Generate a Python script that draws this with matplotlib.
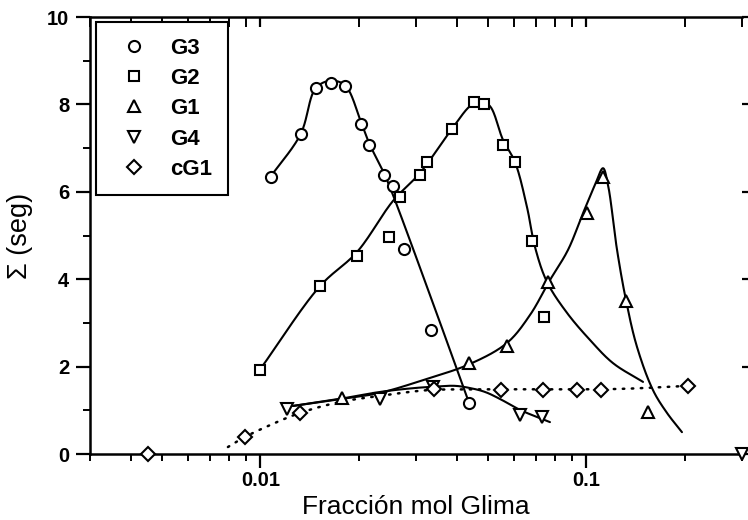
import numpy as np
import matplotlib
matplotlib.use("Agg")
import matplotlib.pyplot as plt
from matplotlib.lines import Line2D
from matplotlib.ticker import LogLocator, NullFormatter, FixedLocator, FuncFormatter, MultipleLocator

plt.rcParams['font.family'] = ['Liberation Sans', 'DejaVu Sans']

# ---- measured points -------------------------------------------------------
g3_x = [0.01075, 0.01328, 0.01477, 0.01642, 0.01816, 0.02034, 0.02145,
        0.02396, 0.02555, 0.02756, 0.03334, 0.04370]
g3_y = [6.35, 7.32, 8.37, 8.48, 8.43, 7.55, 7.07, 6.38, 6.13, 4.70, 2.84, 1.16]

g2_x = [0.00994, 0.01522, 0.01981, 0.02478, 0.02673, 0.03078, 0.03234,
        0.03860, 0.04517, 0.04856, 0.05556, 0.06036, 0.06820, 0.07427]
g2_y = [1.93, 3.85, 4.53, 4.97, 5.87, 6.39, 6.69, 7.43, 8.05, 8.00, 7.08,
        6.69, 4.87, 3.13]

g1_x = [0.01778, 0.04361, 0.05702, 0.07632, 0.1001, 0.1124, 0.1322, 0.1547]
g1_y = [1.28, 2.08, 2.48, 3.94, 5.51, 6.34, 3.51, 0.95]

g4_x = [0.01203, 0.02326, 0.03390, 0.06252, 0.07288, 0.300]
g4_y = [1.02, 1.25, 1.53, 0.89, 0.85, 0.0]

cg1_x = [0.004527, 0.008963, 0.01322, 0.03406, 0.05455, 0.07370, 0.09331,
         0.1105, 0.2052]
cg1_y = [0.0, 0.39, 0.94, 1.49, 1.46, 1.46, 1.46, 1.46, 1.56]

# ---- fitted trend curves (knots) --------------------------------------------
fit_g3_x = [0.01075, 0.01328, 0.01477, 0.01634, 0.01816, 0.02034, 0.02152,
            0.02392, 0.02549, 0.03311, 0.04330]
fit_g3_y = [6.35, 7.32, 8.37, 8.54, 8.44, 7.60, 7.12, 6.43, 5.93, 3.64, 1.24]

fit_g2_x = [0.00994, 0.01522, 0.01977, 0.02549, 0.03085, 0.03868, 0.04391,
            0.04714, 0.05058, 0.05544, 0.06036, 0.06570, 0.06950, 0.07564,
            0.08715, 0.1025, 0.1206, 0.1491]
fit_g2_y = [1.92, 3.84, 4.62, 5.79, 6.43, 7.44, 7.96, 8.08, 7.96, 7.19,
            6.68, 5.65, 4.74, 3.94, 3.23, 2.61, 2.08, 1.65]

fit_g1_x = [0.01258, 0.01778, 0.02326, 0.03241, 0.04391, 0.05702, 0.06710,
            0.07727, 0.08777, 0.09757, 0.1062, 0.1124, 0.1164, 0.1241,
            0.1322, 0.1429, 0.1600, 0.1766, 0.1963]
fit_g1_y = [1.10, 1.26, 1.40, 1.72, 2.06, 2.54, 3.18, 3.98, 4.67, 5.51,
            6.16, 6.54, 6.16, 4.67, 3.52, 2.45, 1.46, 0.94, 0.50]

fit_g4_x = [0.01258, 0.01778, 0.02326, 0.02874, 0.03382, 0.03951, 0.04391,
            0.04885, 0.05428, 0.06252, 0.07727]
fit_g4_y = [1.10, 1.27, 1.42, 1.50, 1.54, 1.56, 1.51, 1.42, 1.26, 1.01, 0.73]

fit_cg1_x = [0.007948, 0.008963, 0.01069, 0.01322, 0.01753, 0.02326,
             0.03241, 0.04391, 0.07727, 0.1267, 0.2052]
fit_cg1_y = [0.16, 0.39, 0.66, 0.94, 1.19, 1.33, 1.46, 1.48, 1.48, 1.49, 1.56]

series_labels = ['G3', 'G2', 'G1', 'G4', 'cG1']
x_label = 'Fracción mol Glima'
y_label = 'Σ (seg)'

# ---- figure ------------------------------------------------------------------
fig = plt.figure(figsize=(7.48, 5.2), dpi=100)
ax = fig.add_axes([0.1203, 0.1269, 0.8717, 0.8404])
ax.set_xscale('log')
ax.set_xlim(0.003, 0.3)
ax.set_ylim(0, 10)


def smooth(xs, ys, n=24, alpha=0.5):
    """Centripetal Catmull-Rom curve through the knots, built in display space."""
    P = ax.transData.transform(np.column_stack([xs, ys]))
    P = np.vstack([2 * P[0] - P[1], P, 2 * P[-1] - P[-2]])
    out = []
    for i in range(1, len(P) - 2):
        p0, p1, p2, p3 = P[i - 1], P[i], P[i + 1], P[i + 2]
        t0 = 0.0
        t1 = t0 + max(np.linalg.norm(p1 - p0), 1e-6) ** alpha
        t2 = t1 + max(np.linalg.norm(p2 - p1), 1e-6) ** alpha
        t3 = t2 + max(np.linalg.norm(p3 - p2), 1e-6) ** alpha
        t = np.linspace(t1, t2, n, endpoint=False)[:, None]
        A1 = (t1 - t) / (t1 - t0) * p0 + (t - t0) / (t1 - t0) * p1
        A2 = (t2 - t) / (t2 - t1) * p1 + (t - t1) / (t2 - t1) * p2
        A3 = (t3 - t) / (t3 - t2) * p2 + (t - t2) / (t3 - t2) * p3
        B1 = (t2 - t) / (t2 - t0) * A1 + (t - t0) / (t2 - t0) * A2
        B2 = (t3 - t) / (t3 - t1) * A2 + (t - t1) / (t3 - t1) * A3
        out.append((t2 - t) / (t2 - t1) * B1 + (t - t1) / (t2 - t1) * B2)
    out.append(P[-2][None])
    D = ax.transData.inverted().transform(np.vstack(out))
    return D[:, 0], D[:, 1]


lw = 1.5
for fx, fy in [(fit_g3_x, fit_g3_y), (fit_g2_x, fit_g2_y),
               (fit_g1_x, fit_g1_y), (fit_g4_x, fit_g4_y)]:
    sx, sy = smooth(fx, fy)
    ax.plot(sx, sy, color='black', lw=lw, solid_capstyle='round', zorder=2)

sx, sy = smooth(fit_cg1_x, fit_cg1_y)
ax.plot(sx, sy, color='black', lw=1.8, linestyle=(0, (0.6, 3.0)),
        dash_capstyle='round', zorder=2)

mk = dict(linestyle='none', markerfacecolor='white', markeredgecolor='black',
          markeredgewidth=1.5, zorder=3, clip_on=False)
styles = [('o', 8), ('s', 7.2), ('^', 8.5), ('v', 8.5), ('D', 7)]
data = [(g3_x, g3_y), (g2_x, g2_y), (g1_x, g1_y), (g4_x, g4_y), (cg1_x, cg1_y)]
for (m, s), (xs, ys) in zip(styles, data):
    ax.plot(xs, ys, marker=m, markersize=s, **mk)

# ---- axes styling ------------------------------------------------------------
for side in ['left', 'bottom', 'top']:
    ax.spines[side].set_linewidth(1.8)
ax.spines['right'].set_visible(False)

ax.xaxis.set_major_locator(FixedLocator([0.01, 0.1]))
ax.xaxis.set_major_formatter(FuncFormatter(lambda v, p: f'{v:g}'))
ax.xaxis.set_minor_locator(LogLocator(base=10, subs=np.arange(2, 10), numticks=20))
ax.xaxis.set_minor_formatter(NullFormatter())
ax.yaxis.set_major_locator(MultipleLocator(2))
ax.yaxis.set_minor_locator(MultipleLocator(1))

ax.tick_params(axis='both', which='major', direction='out', length=10, width=1.6,
               labelsize=14.5, pad=5)
ax.tick_params(axis='x', which='major', pad=2)
ax.tick_params(axis='both', which='minor', direction='out', length=5, width=1.4)
ax.tick_params(axis='y', which='major', right=True)
# top edge carries short inward marks
ax.tick_params(axis='x', which='both', top=True)
for t in ax.xaxis.get_major_ticks() + ax.xaxis.get_minor_ticks():
    t.tick2line.set_marker(3)  # TICKDOWN: drawn from the top spine inward
    t.tick2line.set_markersize(7)
for lab in ax.get_xticklabels() + ax.get_yticklabels():
    lab.set_fontweight('bold')

ax.set_xlabel(x_label, fontsize=19, labelpad=3.5)
ax.set_ylabel(y_label, fontsize=19.5, labelpad=10)

handles = [Line2D([], [], marker=m, markersize=s, linestyle='none',
                  markerfacecolor='white', markeredgecolor='black',
                  markeredgewidth=1.5) for m, s in styles]
leg = ax.legend(handles, series_labels, loc='upper left',
                bbox_to_anchor=(0.0092, 0.9886), borderaxespad=0,
                frameon=True, fancybox=False, framealpha=1,
                prop={'size': 16, 'weight': 'bold'},
                handlelength=2.0, handletextpad=0.65, borderpad=0.7,
                labelspacing=0.42)
leg.get_frame().set_edgecolor('black')
leg.get_frame().set_linewidth(1.5)

fig.savefig('out.png', dpi=100)
